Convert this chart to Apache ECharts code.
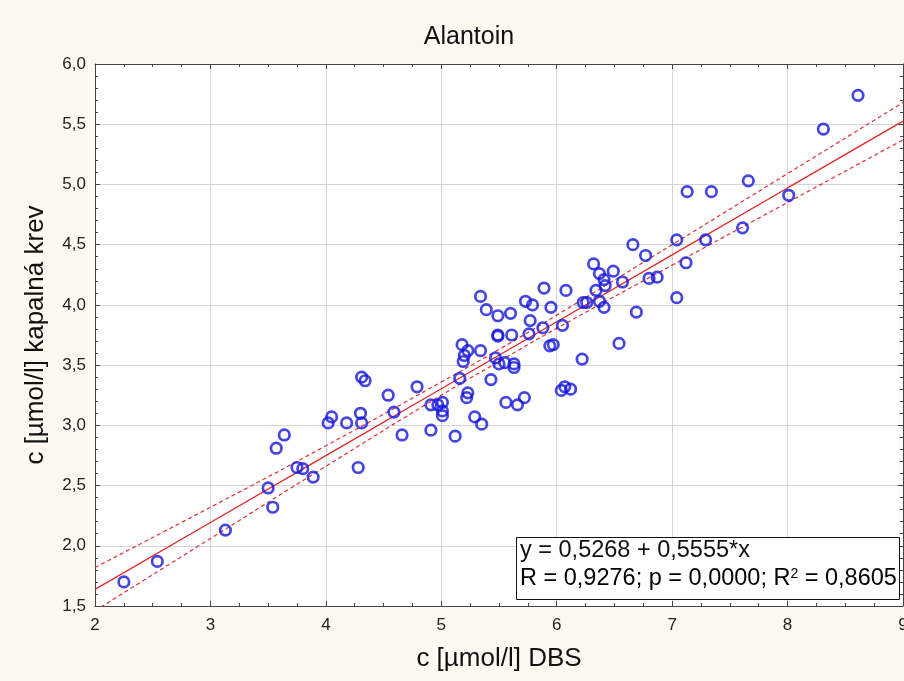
<!DOCTYPE html>
<html>
<head>
<meta charset="utf-8">
<script src="https://cdn.jsdelivr.net/npm/echarts@6/dist/echarts.min.js"></script>
<style>
  html, body { margin: 0; padding: 0; background: #fdf9f0; }
  #chart { width: 904px; height: 681px; }
</style>
</head>
<body>
<div id="chart"></div>
<script>
// measured points: DBS (x) vs capillary blood (y)
const dbsValues = [
  2.25, 2.54, 3.13, 3.50, 3.54, 3.57, 3.64, 3.75, 3.80, 3.89,
  4.02, 4.05, 4.18, 4.28, 4.30, 4.31, 4.31, 4.34, 4.54, 4.59,
  4.66, 4.79, 4.91, 4.91, 4.97, 5.01, 5.01, 5.01, 5.12, 5.16,
  5.18, 5.19, 5.20, 5.22, 5.23, 5.23, 5.29, 5.34, 5.34, 5.35,
  5.39, 5.43, 5.47, 5.49, 5.49, 5.49, 5.50, 5.55, 5.56, 5.60,
  5.61, 5.63, 5.63, 5.66, 5.72, 5.73, 5.76, 5.77, 5.79, 5.88,
  5.89, 5.94, 5.95, 5.97, 6.04, 6.05, 6.07, 6.08, 6.12, 6.22,
  6.23, 6.26, 6.32, 6.34, 6.37, 6.37, 6.41, 6.41, 6.42, 6.49,
  6.54, 6.57, 6.66, 6.69, 6.77, 6.80, 6.87, 7.04, 7.04, 7.12,
  7.13, 7.29, 7.34, 7.61, 7.66, 8.01, 8.31, 8.61
];
const bloodValues = [
  1.70, 1.87, 2.13, 2.48, 2.32, 2.81, 2.92, 2.65, 2.64, 2.57,
  3.02, 3.07, 3.02, 2.65, 3.10, 3.02, 3.40, 3.37, 3.25, 3.11,
  2.92, 3.32, 3.17, 2.96, 3.17, 3.19, 3.12, 3.08, 2.91, 3.39,
  3.67, 3.53, 3.58, 3.23, 3.27, 3.62, 3.07, 3.62, 4.07, 3.01,
  3.96, 3.38, 3.56, 3.91, 3.75, 3.74, 3.51, 3.52, 3.19, 3.93,
  3.75, 3.51, 3.48, 3.17, 3.23, 4.03, 3.76, 3.87, 4.00, 3.81,
  4.14, 3.66, 3.98, 3.67, 3.29, 3.83, 3.32, 4.12, 3.30, 3.55,
  4.02, 4.02, 4.34, 4.12, 4.03, 4.26, 3.98, 4.21, 4.16, 4.28,
  3.68, 4.19, 4.50, 3.94, 4.41, 4.22, 4.23, 4.06, 4.54, 4.35,
  4.94, 4.54, 4.94, 4.64, 5.03, 4.91, 5.46, 5.74
];

// regression line and 95% confidence band
const fitX = [2, 3, 4, 5, 5.5, 6, 7, 8, 9];
const fitY = [1.638, 2.193, 2.749, 3.304, 3.582, 3.860, 4.415, 4.971, 5.526];
const bandUpper = [1.82, 2.32, 2.83, 3.36, 3.63, 3.915, 4.50, 5.09, 5.68];
const bandLower = [1.46, 2.06, 2.66, 3.25, 3.53, 3.805, 4.33, 4.85, 5.37];

const titleText = 'Alantoin';
const xName = 'c [µmol/l] DBS';
const yName = 'c [µmol/l] kapalná krev';
const statLine1 = 'y = 0,5268 + 0,5555*x';
const statLine2 = ['R = 0,9276; p = 0,0000; R', '2', ' = 0,8605'];

const font = 'Liberation Sans, Arial, sans-serif';
const chart = echarts.init(document.getElementById('chart'));

const zip = (xs, ys) => xs.map((x, i) => [x, ys[i]]);

const frameAxis = {
  axisLine: { show: true, lineStyle: { color: '#444', width: 1 } },
  axisTick: { show: true, inside: true, length: 5, lineStyle: { color: '#444' } },
  splitLine: { show: false },
  axisLabel: { show: false }
};

chart.setOption({
  backgroundColor: '#fdf9f0',
  animation: false,
  title: {
    text: titleText,
    left: 464,
    top: 20,
    textAlign: 'center',
    textStyle: { fontFamily: font, fontSize: 25, fontWeight: 'normal', color: '#111' }
  },
  grid: {
    left: 95, right: 1, top: 64, bottom: 75,
    outerBoundsMode: 'none', containLabel: false,
    show: true, backgroundColor: '#ffffff', borderWidth: 0
  },
  xAxis: [
    {
      type: 'value', min: 2, max: 9, interval: 1,
      name: xName, nameLocation: 'middle', nameGap: 40,
      nameTextStyle: { fontFamily: font, fontSize: 26, color: '#111' },
      axisLine: { show: true, lineStyle: { color: '#444', width: 1 } },
      axisTick: { show: true, inside: true, length: 5, lineStyle: { color: '#444' } },
      minorTick: { show: true, splitNumber: 4, length: 3, lineStyle: { color: '#444' } },
      axisLabel: { fontFamily: font, fontSize: 17, color: '#222', margin: 11 },
      splitLine: { show: true, lineStyle: { color: '#d4d4d4', width: 1 } }
    },
    Object.assign({}, frameAxis, {
      type: 'value', min: 2, max: 9, interval: 1, position: 'top',
      minorTick: { show: true, splitNumber: 4, length: 3, lineStyle: { color: '#444' } }
    })
  ],
  yAxis: [
    {
      type: 'value', min: 1.5, max: 6, interval: 0.5,
      name: yName, nameLocation: 'middle', nameGap: 46,
      nameTextStyle: { fontFamily: font, fontSize: 26, color: '#111' },
      axisLine: { show: true, lineStyle: { color: '#444', width: 1 } },
      axisTick: { show: true, inside: true, length: 5, lineStyle: { color: '#444' } },
      minorTick: { show: true, splitNumber: 5, length: 3, lineStyle: { color: '#444' } },
      axisLabel: {
        fontFamily: font, fontSize: 17, color: '#222', margin: 9,
        formatter: v => v.toFixed(1).replace('.', ',')
      },
      splitLine: { show: true, lineStyle: { color: '#d4d4d4', width: 1 } }
    },
    Object.assign({}, frameAxis, {
      type: 'value', min: 1.5, max: 6, interval: 0.5, position: 'right',
      minorTick: { show: true, splitNumber: 5, length: 3, lineStyle: { color: '#444' } }
    })
  ],
  series: [
    {
      name: 'upper', type: 'line', data: zip(fitX, bandUpper), smooth: true,
      showSymbol: false, lineStyle: { color: '#e03030', width: 1.2, type: [4, 3] }
    },
    {
      name: 'lower', type: 'line', data: zip(fitX, bandLower), smooth: true,
      showSymbol: false, lineStyle: { color: '#e03030', width: 1.2, type: [4, 3] }
    },
    {
      name: 'fit', type: 'line', data: zip(fitX, fitY),
      showSymbol: false, lineStyle: { color: '#e02828', width: 1.3 }
    },
    {
      name: 'points', type: 'scatter', data: zip(dbsValues, bloodValues),
      symbol: 'circle', symbolSize: 10.5,
      itemStyle: { color: 'rgba(0,0,0,0)', borderColor: '#1616dc', borderWidth: 2.7 },
      z: 5
    }
  ],
  graphic: [
    {
      type: 'rect', left: 516, top: 537, z: 10,
      shape: { width: 383, height: 62 },
      style: { fill: '#ffffff', stroke: '#111', lineWidth: 1 }
    },
    {
      type: 'text', left: 520, top: 539, z: 11,
      style: { text: statLine1, fontFamily: font, fontSize: 23.5, fill: '#111' }
    },
    {
      type: 'text', left: 520, top: 567, z: 11,
      style: {
        text: '{a|' + statLine2[0] + '}{s|' + statLine2[1] + '}{a|' + statLine2[2] + '}',
        rich: {
          a: { fontFamily: font, fontSize: 23.5, color: '#111' },
          s: { fontFamily: font, fontSize: 14, color: '#111', verticalAlign: 'top', padding: [0, 0, 8, 0] }
        }
      }
    }
  ]
});
</script>
</body>
</html>
